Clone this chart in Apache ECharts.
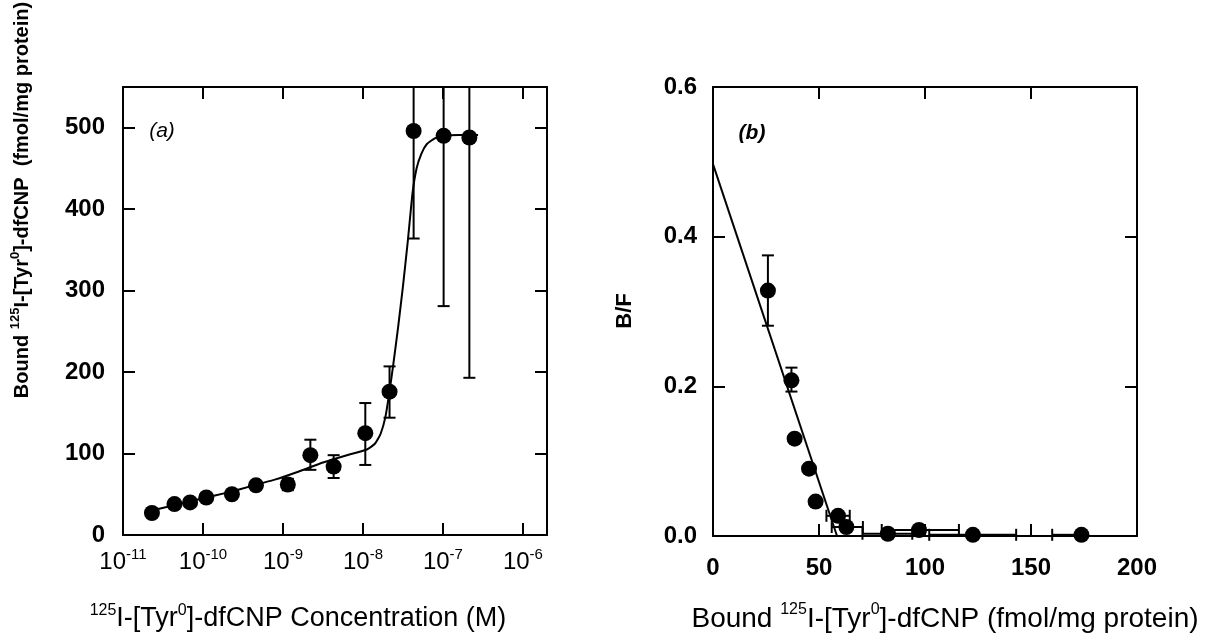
<!DOCTYPE html>
<html>
<head>
<meta charset="utf-8">
<script src="https://cdn.jsdelivr.net/npm/echarts@6/dist/echarts.min.js"></script>
<style>
  html, body { margin: 0; padding: 0; background: #fff; }
  #chart { width: 1231px; height: 641px; }
</style>
</head>
<body>
<div id="chart"></div>
<script>
// (a) saturation binding: concentration (M) vs bound (fmol/mg protein)
const concA = [2.3e-11, 4.4e-11, 6.9e-11, 1.1e-10, 2.3e-10, 4.6e-10, 1.15e-9, 2.2e-9, 4.3e-9, 1.07e-8, 2.15e-8, 4.3e-8, 1.02e-7, 2.14e-7];
const boundA = [27, 38, 40, 46, 50, 61, 62, 98, 84, 125, 176, 496, 490, 488];
const errLoA = [null, null, null, null, null, null, 55, 80, 70, 86, 144, 364, 281, 193];
const errHiA = [null, null, null, null, null, null, 69, 117, 98, 162, 207, 628, 699, 783];

// fitted curve of (a)
const fitConc = [2.29e-11, 5.0e-11, 1.0e-10, 2.0e-10, 4.0e-10, 7.9e-10, 1.58e-9, 3.16e-9, 6.3e-9, 1.12e-8, 1.41e-8, 1.66e-8, 1.91e-8, 2.14e-8, 2.4e-8, 2.75e-8, 3.16e-8, 3.63e-8, 4.17e-8, 4.68e-8, 5.37e-8, 6.3e-8, 7.9e-8, 1.0e-7, 1.58e-7, 2.75e-7];
const fitBound = [30, 38, 45, 52, 60, 68, 78, 89, 98, 105, 112, 124, 145, 175, 210, 255, 305, 360, 420, 450, 468, 480, 487, 490, 491, 491];

// (b) Scatchard: bound vs B/F
const boundB = [25.9, 37, 38.5, 45.3, 48.4, 59, 62.9, 82.5, 97.2, 122.6, 173.8];
const bfB = [0.328, 0.208, 0.13, 0.09, 0.046, 0.027, 0.012, 0.003, 0.008, 0.0016, 0.0016];
const bfLoB = [0.281, 0.193, null, null, null, null, null, null, null, null, null];
const bfHiB = [0.375, 0.225, null, null, null, null, null, null, null, null, null];
const bLoB = [null, null, null, null, null, 53.5, 56, 70.5, 79.6, 102, 160];
const bHiB = [null, null, null, null, null, 64.5, 70.7, 94, 116, 143, 174];

// Scatchard regression line
const lineBX = [0, 58.5];
const lineBY = [0.497, 0];

const FONT = 'Liberation Sans, Arial, sans-serif';
const Y_MAX_A = 550;
const CAP = 6;

const lineStyle = { stroke: '#000', lineWidth: 2 };

function vErr(yMax) {
    return function (params, api) {
        const x = api.value(0), lo = api.value(1), hi = api.value(2);
        const p0 = api.coord([x, lo]);
        const p1 = api.coord([x, Math.min(hi, yMax)]);
        const kids = [
            { type: 'line', shape: { x1: p0[0], y1: p0[1], x2: p1[0], y2: p1[1] }, style: lineStyle },
            { type: 'line', shape: { x1: p0[0] - CAP, y1: p0[1], x2: p0[0] + CAP, y2: p0[1] }, style: lineStyle }
        ];
        if (hi <= yMax) {
            kids.push({ type: 'line', shape: { x1: p1[0] - CAP, y1: p1[1], x2: p1[0] + CAP, y2: p1[1] }, style: lineStyle });
        }
        return { type: 'group', children: kids };
    };
}

function hErr(params, api) {
    const y = api.value(0), lo = api.value(1), hi = api.value(2);
    const p0 = api.coord([lo, y]);
    const p1 = api.coord([hi, y]);
    return {
        type: 'group',
        children: [
            { type: 'line', shape: { x1: p0[0], y1: p0[1], x2: p1[0], y2: p1[1] }, style: lineStyle },
            { type: 'line', shape: { x1: p0[0], y1: p0[1] - CAP, x2: p0[0], y2: p0[1] + CAP }, style: lineStyle },
            { type: 'line', shape: { x1: p1[0], y1: p1[1] - CAP, x2: p1[0], y2: p1[1] + CAP }, style: lineStyle }
        ]
    };
}

function richSet(size, supSize, weight) {
    return {
        n: { fontSize: size, lineHeight: size + 6, fontFamily: FONT, color: '#000', fontWeight: weight, verticalAlign: 'middle' },
        s: { fontSize: supSize, lineHeight: size, fontFamily: FONT, color: '#000', fontWeight: weight, verticalAlign: 'top' }
    };
}

function axisBase(extra) {
    return Object.assign({
        axisLine: { show: true, onZero: false, lineStyle: { color: '#000', width: 2 } },
        axisTick: { show: true, inside: true, length: 12, lineStyle: { color: '#000', width: 2 } },
        splitLine: { show: false },
        minorTick: { show: false }
    }, extra);
}
const noLabel = { show: false };
const tickLabel = { color: '#000', fontFamily: FONT, fontSize: 24, fontWeight: 'bold', margin: 18 };

const zip = (a, b) => a.map((v, i) => [v, b[i]]);
const errRows = (x, lo, hi) => x.map((v, i) => [v, lo[i], hi[i]]).filter(r => r[1] != null);

const logFmt = v => {
    const l = Math.log10(v);
    const n = Math.round(l);
    return Math.abs(l - n) < 0.01 ? '{n|10}{s|' + n + '}' : '';
};

const centered = { align: 'center', verticalAlign: 'middle', textAlign: 'center', textVerticalAlign: 'middle' };

const chart = echarts.init(document.getElementById('chart'));
chart.setOption({
    backgroundColor: '#fff',
    animation: false,
    grid: [
        { left: 123, top: 87, width: 424, height: 448, outerBoundsMode: 'none', containLabel: false },
        { left: 713, top: 87, width: 424, height: 449, outerBoundsMode: 'none', containLabel: false }
    ],
    xAxis: [
        axisBase({ type: 'log', logBase: 10, gridIndex: 0, position: 'bottom', min: 1e-11, max: 2e-6,
            axisLabel: { formatter: logFmt, rich: richSet(24, 15, 'normal'), margin: 12 } }),
        axisBase({ type: 'log', logBase: 10, gridIndex: 0, position: 'top', min: 1e-11, max: 2e-6, axisLabel: noLabel }),
        axisBase({ type: 'value', gridIndex: 1, position: 'bottom', min: 0, max: 200, interval: 50,
            axisLabel: Object.assign({}, tickLabel, { margin: 20 }) }),
        axisBase({ type: 'value', gridIndex: 1, position: 'top', min: 0, max: 200, interval: 50, axisLabel: noLabel })
    ],
    yAxis: [
        axisBase({ type: 'value', gridIndex: 0, position: 'left', min: 0, max: Y_MAX_A, interval: 100,
            axisLabel: Object.assign({}, tickLabel, { formatter: v => (v % 100 === 0 ? String(v) : '') }) }),
        axisBase({ type: 'value', gridIndex: 0, position: 'right', min: 0, max: Y_MAX_A, interval: 100, axisLabel: noLabel }),
        axisBase({ type: 'value', gridIndex: 1, position: 'left', min: 0, max: 0.6, interval: 0.2,
            axisLabel: Object.assign({}, tickLabel, { margin: 16, formatter: v => v.toFixed(1) }) }),
        axisBase({ type: 'value', gridIndex: 1, position: 'right', min: 0, max: 0.6, interval: 0.2, axisLabel: noLabel })
    ],
    series: [
        {
            type: 'line', xAxisIndex: 0, yAxisIndex: 0, data: zip(fitConc, fitBound),
            showSymbol: false, smooth: 0.15,
            lineStyle: { color: '#000', width: 2 }, z: 2
        },
        {
            type: 'custom', xAxisIndex: 0, yAxisIndex: 0, data: errRows(concA, errLoA, errHiA),
            renderItem: vErr(Y_MAX_A), z: 3
        },
        {
            type: 'scatter', xAxisIndex: 0, yAxisIndex: 0, data: zip(concA, boundA),
            symbol: 'circle', symbolSize: 16, itemStyle: { color: '#000', opacity: 1 }, z: 4
        },
        {
            type: 'line', xAxisIndex: 2, yAxisIndex: 2, data: zip(lineBX, lineBY),
            showSymbol: false, lineStyle: { color: '#000', width: 2 }, z: 2
        },
        {
            type: 'custom', xAxisIndex: 2, yAxisIndex: 2, data: errRows(boundB, bfLoB, bfHiB),
            renderItem: vErr(0.6), z: 3
        },
        {
            type: 'custom', xAxisIndex: 2, yAxisIndex: 2, data: errRows(bfB, bLoB, bHiB),
            renderItem: hErr, z: 3
        },
        {
            type: 'scatter', xAxisIndex: 2, yAxisIndex: 2, data: zip(boundB, bfB),
            symbol: 'circle', symbolSize: 16, itemStyle: { color: '#000', opacity: 1 }, z: 4
        }
    ],
    graphic: [
        {
            type: 'text', x: 22, y: 200, rotation: Math.PI / 2,
            style: Object.assign({
                text: '{n|Bound }{s|125}{n|I-[Tyr}{s|0}{n|]-dfCNP  (fmol/mg protein)}',
                rich: richSet(20, 13, 'bold')
            }, centered)
        },
        {
            type: 'text', x: 298, y: 619,
            style: Object.assign({
                text: '{s|125}{n|I-[Tyr}{s|0}{n|]-dfCNP Concentration (M)}',
                rich: richSet(27, 16, 'normal')
            }, centered)
        },
        {
            type: 'text', x: 625, y: 311, rotation: Math.PI / 2,
            style: Object.assign({ text: 'B/F', font: 'bold 22px ' + FONT, fill: '#000' }, centered)
        },
        {
            type: 'text', x: 945, y: 619,
            style: Object.assign({
                text: '{n|Bound }{s|125}{n|I-[Tyr}{s|0}{n|]-dfCNP (fmol/mg protein)}',
                rich: richSet(28, 16, 'normal')
            }, centered)
        },
        {
            type: 'text', x: 162, y: 131,
            style: Object.assign({ text: '(a)', font: 'italic 21px ' + FONT, fill: '#000' }, centered)
        },
        {
            type: 'text', x: 752, y: 133,
            style: Object.assign({ text: '(b)', font: 'italic bold 21px ' + FONT, fill: '#000' }, centered)
        }
    ]
});
</script>
</body>
</html>
